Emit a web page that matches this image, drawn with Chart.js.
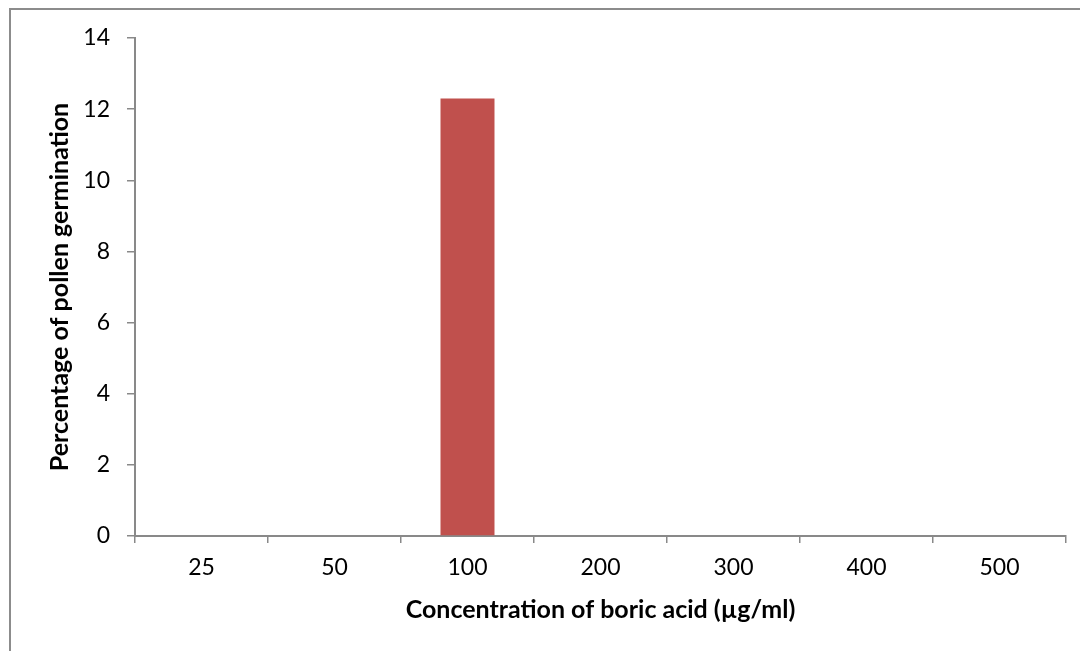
<!DOCTYPE html>
<html>
<head>
<meta charset="utf-8">
<script src="https://cdn.jsdelivr.net/npm/chart.js@4.4.1/dist/chart.umd.min.js"></script>
<style>
  html, body { margin: 0; padding: 0; background: #ffffff; }
  #wrap { width: 1080px; height: 651px; position: relative; }
</style>
</head>
<body>
<div id="wrap"><canvas id="chart" width="1080" height="651"></canvas></div>
<script>
// Boric acid concentrations (µg/ml) tested
const concentrations = ['25', '50', '100', '200', '300', '400', '500'];
// Pollen germination (%) at each concentration
const germination = [0, 0, 12.3, 0, 0, 0, 0];
// Y axis range and step
const yMin = 0;
const yMax = 14;
const yStep = 2;

const axisGray = '#898989';
const fontFamily = 'Lato, "Open Sans", "Liberation Sans", sans-serif';

// Outer frame of the chart panel (left and top edges visible)
const framePlugin = {
  id: 'frame',
  beforeDraw(chart) {
    const ctx = chart.ctx;
    ctx.save();
    ctx.fillStyle = '#ffffff';
    ctx.fillRect(0, 0, chart.width, chart.height);
    ctx.strokeStyle = '#8c8c8c';
    ctx.lineWidth = 2;
    ctx.beginPath();
    ctx.moveTo(10, chart.height + 5);
    ctx.lineTo(10, 9);
    ctx.lineTo(chart.width + 5, 9);
    ctx.stroke();
    ctx.restore();
  }
};

new Chart(document.getElementById('chart'), {
  type: 'bar',
  data: {
    labels: concentrations,
    datasets: [{
      data: germination,
      backgroundColor: '#C0504D',
      borderWidth: 0,
      categoryPercentage: 1.0,
      barPercentage: 0.406
    }]
  },
  options: {
    responsive: false,
    animation: false,
    devicePixelRatio: 1,
    layout: { padding: { top: 38, right: 14, bottom: 0, left: 0 } },
    plugins: {
      legend: { display: false },
      tooltip: { enabled: false }
    },
    scales: {
      x: {
        offset: true,
        afterFit(scale) { scale.height = 115; },
        grid: {
          offset: true,
          drawOnChartArea: false,
          drawTicks: true,
          tickLength: 7,
          color: axisGray,
          lineWidth: 1.5
        },
        border: { color: axisGray, width: 2 },
        ticks: {
          color: '#000000',
          padding: 11,
          font: { family: fontFamily, size: 23 }
        },
        title: {
          display: true,
          text: 'Concentration of boric acid (µg/ml)',
          color: '#000000',
          font: { family: fontFamily, size: 25, weight: 'bold' },
          padding: { top: 0, bottom: 26 }
        }
      },
      y: {
        min: yMin,
        max: yMax,
        afterFit(scale) { scale.width = 135; },
        grid: {
          drawOnChartArea: false,
          drawTicks: true,
          tickLength: 8,
          color: axisGray,
          lineWidth: 1.5
        },
        border: { color: axisGray, width: 2 },
        ticks: {
          stepSize: yStep,
          color: '#000000',
          padding: 17,
          font: { family: fontFamily, size: 23 }
        },
        title: {
          display: true,
          text: 'Percentage of pollen germination',
          color: '#000000',
          font: { family: fontFamily, size: 25, weight: 'bold' },
          padding: { top: 45, bottom: 0 }
        }
      }
    }
  },
  plugins: [framePlugin]
});
</script>
</body>
</html>
